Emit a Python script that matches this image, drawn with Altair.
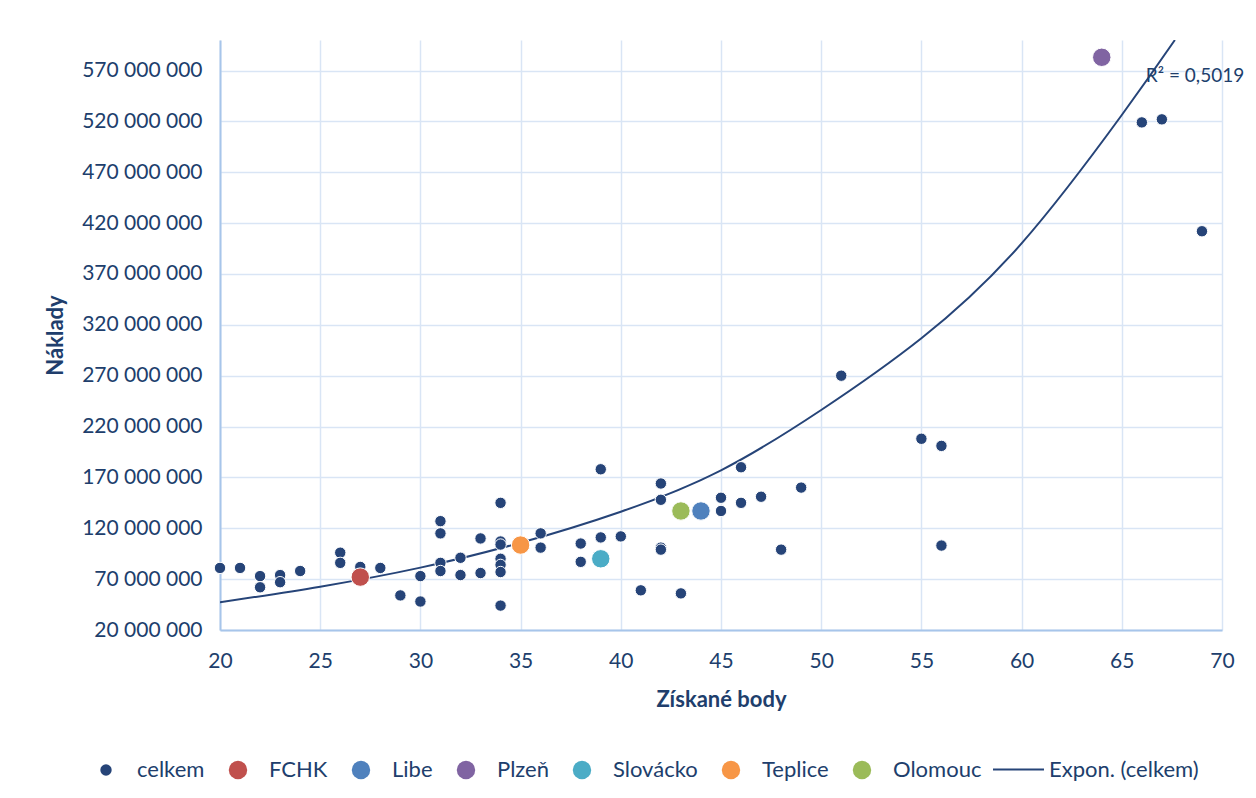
import altair as alt
import pandas as pd

# ---- data ----
celkem_x = [20, 21, 22, 22, 23, 23, 24, 26, 26, 27, 28, 29, 30, 30, 31, 31, 31, 31,
            32, 32, 33, 33, 34, 34, 34, 34, 34, 34, 34, 36, 36, 38, 38, 39, 39, 40,
            41, 42, 42, 42, 42, 43, 45, 45, 46, 46, 47, 48, 49, 51, 55, 56, 56, 66,
            67, 69]
celkem_y_mil = [81, 81, 73, 62, 74, 67, 78, 96, 86, 82, 81, 54, 73, 48, 127, 115, 86, 78,
                91, 74, 110, 76, 145, 107, 104, 90, 84, 77, 44, 115, 101, 105, 87, 178, 111, 112,
                59, 164, 148, 101, 99, 56, 150, 137, 180, 145, 151, 99, 160, 270, 208, 201, 103, 519,
                522, 412]

team_names = ["FCHK", "Libe", "Plzeň", "Slovácko", "Teplice", "Olomouc"]
team_x = [27, 44, 64, 39, 35, 43]
team_y_mil = [72, 137, 583, 90, 103.5, 137]

# exponential trendline as drawn in the reference
trend_x = [20, 25, 30, 35, 40, 45, 50, 55, 60, 65, 67.65]
trend_y_mil = [47.2, 62.6, 81.3, 105.8, 136.3, 177, 236.3, 306.8, 400.1, 526.3, 600]

series_order = ["celkem"] + team_names
series_colors = ["#264478", "#C0504D", "#4F81BD", "#8064A2", "#4BACC6", "#F79646", "#9BBB59"]
series_sizes = [130, 340, 340, 340, 340, 340, 340]

trend_label = "Expon. (celkem)"
r2_text = "R² = 0,5019"
r2_pos_x = [66.2]
r2_pos_y_mil = [565]

x_ticks = list(range(20, 71, 5))
y_ticks = [v * 1_000_000 for v in range(20, 571, 50)]

x_title = "Získané body"
y_title = "Náklady"

# ---- style ----
TEXT = "#203E6C"
FONT = "Lato"
GRID = "#D9E5F5"
DOMAIN = "#A7C5EA"

rows = [{"x": x, "y": y * 1_000_000, "series": "celkem"} for x, y in zip(celkem_x, celkem_y_mil)]
rows += [{"x": x, "y": y * 1_000_000, "series": n} for n, x, y in zip(team_names, team_x, team_y_mil)]
df = pd.DataFrame(rows)

trend_df = pd.DataFrame({"x": trend_x, "y": [v * 1_000_000 for v in trend_y_mil],
                         "trend": [trend_label] * len(trend_x)})

xscale = alt.Scale(domain=[20, 70], nice=False, zero=False)
yscale = alt.Scale(domain=[20_000_000, 600_000_000], nice=False, zero=False)

xaxis = alt.Axis(values=x_ticks, title=x_title, ticks=False, grid=True, labelFlush=False,
                 labelPadding=20, titlePadding=18)
yaxis = alt.Axis(values=y_ticks, title=y_title, ticks=False, grid=True, labelFlush=False,
                 labelPadding=18, titlePadding=14,
                 labelExpr="replace(format(datum.value, ',d'), /,/g, ' ')")

pt_legend = alt.Legend(title=None, orient="none", direction="horizontal",
                       legendX=-125, legendY=719, labelFont=FONT, labelFontSize=22,
                       labelColor=TEXT, labelOffset=20, columnPadding=22,
                       symbolStrokeWidth=0)

points = alt.Chart(df).mark_point(filled=True, opacity=1, stroke="white", strokeWidth=1).encode(
    x=alt.X("x:Q", scale=xscale, axis=xaxis),
    y=alt.Y("y:Q", scale=yscale, axis=yaxis),
    color=alt.Color("series:N", scale=alt.Scale(domain=series_order, range=series_colors),
                    legend=pt_legend),
    size=alt.Size("series:N", scale=alt.Scale(type="ordinal", domain=series_order,
                                              range=series_sizes),
                  legend=pt_legend),
)

trend = alt.Chart(trend_df).mark_line(clip=True, strokeWidth=2, interpolate="natural").encode(
    x=alt.X("x:Q", scale=xscale, axis=xaxis),
    y=alt.Y("y:Q", scale=yscale, axis=yaxis),
    stroke=alt.Stroke("trend:N", scale=alt.Scale(domain=[trend_label], range=["#264478"]),
                      legend=alt.Legend(title=None, orient="none", direction="horizontal",
                                        legendX=772, legendY=703, symbolType="stroke",
                                        symbolSize=2600, symbolStrokeWidth=2,
                                        labelFont=FONT, labelFontSize=22, labelColor=TEXT,
                                        labelOffset=4)),
)

r2 = alt.Chart(pd.DataFrame({"x": r2_pos_x, "y": [v * 1_000_000 for v in r2_pos_y_mil],
                             "t": [r2_text]})).mark_text(
    align="left", baseline="middle", font=FONT, fontSize=19, color=TEXT
).encode(
    x=alt.X("x:Q", scale=xscale, axis=xaxis),
    y=alt.Y("y:Q", scale=yscale, axis=yaxis),
    text="t:N",
)

chart = alt.layer(trend, points, r2).properties(
    width=1002, height=590,
    autosize=alt.AutoSizeParams(type="none"),
    padding={"left": 212, "top": 32, "right": 26, "bottom": 160},
    background="white",
).configure_view(stroke=None).configure_axis(
    labelFont=FONT, labelFontSize=21, labelColor=TEXT,
    titleFont=FONT, titleFontSize=22, titleFontWeight="bold", titleColor=TEXT,
    gridColor=GRID, gridWidth=1.5, domainColor=DOMAIN, domainWidth=2,
)

chart.save("out.html", embed_options={"renderer": "svg", "actions": False})
